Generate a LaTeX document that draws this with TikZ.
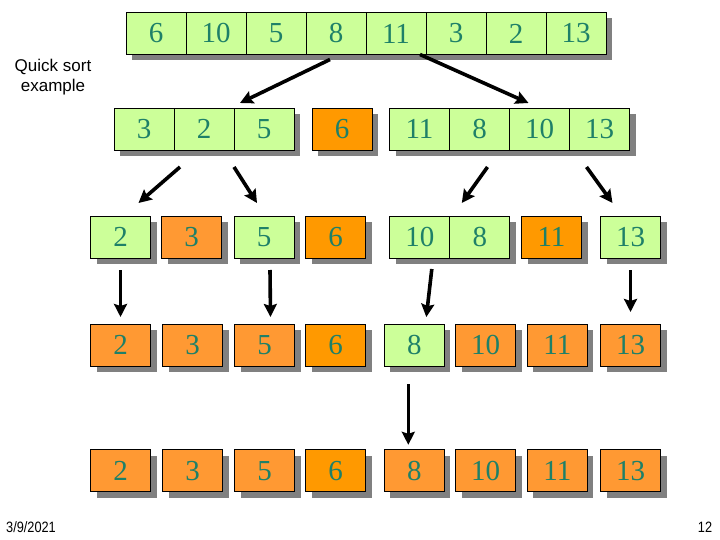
\documentclass[tikz,border=0pt]{standalone}
\usepackage{fontspec}
\setmainfont{Liberation Serif}
\newfontfamily\labelfont{Liberation Sans}
\usepackage{tikz}
\usetikzlibrary{arrows.meta, positioning, calc, backgrounds}
\definecolor{qsgreen}{RGB}{204,255,153}
\definecolor{qsorange}{RGB}{255,153,51}
\definecolor{qspivot}{RGB}{255,153,0}
\definecolor{qsshadow}{RGB}{128,128,128}
\definecolor{qsdigit}{RGB}{30,128,104}

\begin{document}
\begin{tikzpicture}[x=1pt, y=-1pt,
  cell/.style={draw, line width=0.9pt, minimum width=60pt, minimum height=42pt,
    inner sep=0pt, outer sep=0pt, text=qsdigit, font=\fontsize{29}{29}\selectfont},
  arr/.style={line width=3.6pt, -{Stealth[length=13pt, width=13pt, inset=2pt]}}]

  \useasboundingbox (0,0) rectangle (720,540);

  % Row 1: the unsorted array
  \foreach \v [count=\i] in {6,10,5,8,11,3,2,13}{
    \node[cell, fill=qsgreen] (t\i) at ({96+60*\i},33.5) {\v};
  }
  % Row 2: first partition around 6
  \foreach \x/\v/\f [count=\i] in {144/3/qsgreen, 204/2/qsgreen, 264/5/qsgreen, 342/6/qspivot,
      419.5/11/qsgreen, 479.5/8/qsgreen, 539.5/10/qsgreen, 599.5/13/qsgreen}{
    \node[cell, fill=\f] (m\i) at (\x,129) {\v};
  }
  % Row 3
  \foreach \x/\v/\f [count=\i] in {120.5/2/qsgreen, 191.5/3/qsorange, 264/5/qsgreen, 335.7/6/qspivot,
      419.8/10/qsgreen, 479.8/8/qsgreen, 551.5/11/qspivot, 630.5/13/qsgreen}{
    \node[cell, fill=\f] (a\i) at (\x,237) {\v};
  }
  % Row 4
  \foreach \x/\v/\f [count=\i] in {120.5/2/qsorange, 192.5/3/qsorange, 264.5/5/qsorange, 335.5/6/qspivot,
      414.3/8/qsgreen, 485.5/10/qsorange, 557.3/11/qsorange, 630.5/13/qsorange}{
    \node[cell, fill=\f] (b\i) at (\x,345) {\v};
  }
  % Row 5: sorted
  \foreach \x/\v/\f [count=\i] in {120.5/2/qsorange, 192.5/3/qsorange, 264.5/5/qsorange, 335.5/6/qspivot,
      414.3/8/qsorange, 485.5/10/qsorange, 557.3/11/qsorange, 630.5/13/qsorange}{
    \node[cell, fill=\f] (c\i) at (\x,470.8) {\v};
  }

  % Drop shadows behind each group
  \begin{scope}[on background layer]
    \foreach \p/\q in {t1/t8, m1/m3, m4/m4, m5/m8,
        a1/a1, a2/a2, a3/a3, a4/a4, a5/a6, a7/a7, a8/a8,
        b1/b1, b2/b2, b3/b3, b4/b4, b5/b5, b6/b6, b7/b7, b8/b8,
        c1/c1, c2/c2, c3/c3, c4/c4, c5/c5, c6/c6, c7/c7, c8/c8}{
      \fill[qsshadow] ($(\p.north west)+(6,6)$) rectangle ($(\q.south east)+(6,6)$);
    }
  \end{scope}

  % Arrows
  \draw[arr] ([shift={(-6,5)}]t4.south) -- ([shift={(-24,-5)}]m3.north);
  \draw[arr] ([shift={(-6,0)}]t5.south east) -- ([shift={(-11,-5)}]m7.north);
  \draw[arr] ([shift={(-24,17)}]m2.south) -- ([shift={(18,-13)}]a1.north);
  \draw[arr] ([shift={(0,17)}]m2.south east) -- ([shift={(-7,-13)}]a3.north);
  \draw[arr] ([shift={(8,17)}]m6.south) -- ([shift={(-18,-13)}]a6.north);
  \draw[arr] ([shift={(-13,17)}]m8.south) -- ([shift={(-18,-13)}]a8.north);
  \draw[arr] ([shift={(0,12)}]a1.south) -- ([shift={(0,-7)}]b1.north);
  \draw[arr] ([shift={(6,12)}]a3.south) -- ([shift={(6,-7)}]b3.north);
  \draw[arr] ([shift={(12,11)}]a5.south) -- ([shift={(12,-7)}]b5.north);
  \draw[arr] ([shift={(0,12)}]a8.south) -- ([shift={(0,-12)}]b8.north);
  \draw[arr] ([shift={(-6,18)}]b5.south) -- ([shift={(-6,-5)}]c5.north);

  % Labels
  \node[font=\labelfont\fontsize{17}{20}\selectfont, align=center] (title) at (53,77) {Quick sort\\example};
  \node[font=\labelfont\fontsize{15}{15}\selectfont, xscale=0.85] (date) at (31,527) {3/9/2021};
  \node[font=\labelfont\fontsize{15}{15}\selectfont, xscale=0.85] (page) at (705,527) {12};

\end{tikzpicture}
\end{document}
